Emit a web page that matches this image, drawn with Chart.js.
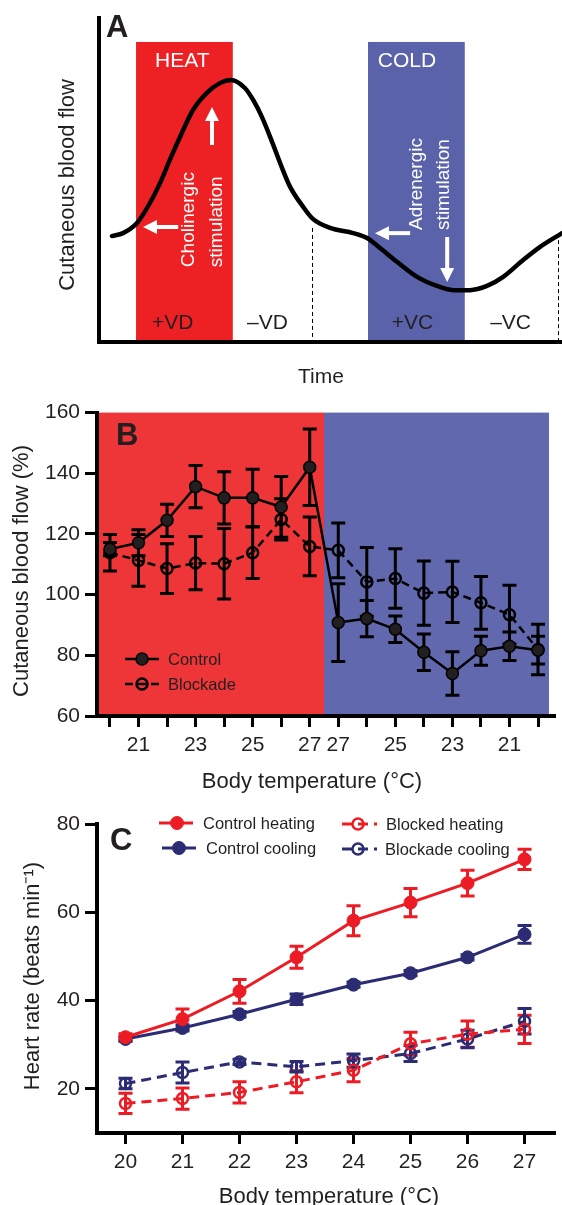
<!DOCTYPE html>
<html>
<head>
<meta charset="utf-8">
<script src="https://cdn.jsdelivr.net/npm/chart.js@4.4.1/dist/chart.umd.min.js"></script>
<style>
  body { margin: 0; background: #fff; }
  canvas { position: absolute; left: 0; }
</style>
</head>
<body>
<canvas id="chartA" width="562" height="395" style="top:0"></canvas>
<canvas id="chartB" width="562" height="400" style="top:395px"></canvas>
<canvas id="chartC" width="562" height="410" style="top:795px"></canvas>
<script>
// ---- panel A: schematic cutaneous blood flow over time (arbitrary units 0-100)
const aTime = [2.8, 5.2, 8.2, 11.0, 13.2, 15.3, 17.7, 20.3, 23.3, 26.1, 28.5, 31.5, 33.3, 35.2, 37.4, 39.7, 41.3, 44.1, 46.2, 49.9, 54.9, 57.9, 60.7, 64.4, 68.7, 73.0, 76.5, 80.1, 83.8, 87.3, 91.6, 95.2, 100]
const aFlow = [32.7, 33.6, 36.7, 42.9, 49.1, 56.2, 63.9, 71.6, 76.9, 79.9, 80.9, 78.4, 74.7, 69.4, 61.7, 53.1, 47.8, 41.7, 38.0, 35.2, 33.6, 32.1, 29.0, 24.7, 20.1, 17.3, 16.0, 16.0, 17.3, 20.1, 25.3, 29.3, 33.6]
const aPhaseNames = ['HEAT', 'COLD']
const aPhaseStart = [8.0, 58.1]
const aPhaseEnd = [28.9, 79.0]
const aPhaseTop = 92.6
const aStageNames = ['+VD', '\u2013VD', '+VC', '\u2013VC']
const aStageTime = [15.9, 36.4, 67.7, 88.9]
const aDashTime = [46.0, 99.1]
const aDashFlow = [35.2, 33.6]

// ---- panel B: blood flow during heating then cooling
const bTemps = [20, 21, 22, 23, 24, 25, 26, 27, 27, 26, 25, 24, 23, 22, 21, 20]
const bControl = [115.0, 117.1, 124.5, 135.6, 131.9, 131.9, 128.9, 142.0, 90.8, 92.1, 88.6, 81.0, 74.0, 81.5, 83.0, 81.7]
const bControlErr = [2.2, 4.3, 5.3, 7.0, 8.6, 9.4, 10.0, 12.6, 12.8, 6.0, 4.4, 6.0, 7.2, 4.8, 4.7, 4.6]
const bBlockade = [113.8, 111.3, 108.6, 110.4, 110.2, 113.8, 124.8, 115.9, 114.6, 104.2, 105.3, 100.5, 100.9, 97.3, 93.4, 81.9]
const bBlockadeErr = [6.0, 8.5, 8.2, 8.8, 11.6, 8.5, 6.8, 9.7, 9.0, 11.3, 9.8, 10.6, 10.1, 8.7, 9.7, 8.3]
const bSplit = 7.5
const bEnd = 15.385

// ---- panel C: heart rate
const cTemps = [20, 21, 22, 23, 24, 25, 26, 27]
const cYTicks = [20, 40, 60, 80]
const cCtrlHeat = [31.7, 35.8, 42.1, 49.8, 58.1, 62.2, 66.6, 72.0]
const cCtrlHeatErr = [0.8, 2.3, 2.7, 2.5, 3.4, 3.2, 2.9, 2.3]
const cCtrlCool = [31.3, 33.8, 36.9, 40.3, 43.6, 46.2, 49.8, 55.0]
const cCtrlCoolErr = [0.5, 0.7, 0.6, 1.2, 0.6, 0.6, 0.6, 2.0]
const cBlockHeat = [16.7, 17.8, 19.2, 21.6, 24.2, 30.2, 32.4, 33.5]
const cBlockHeatErr = [2.3, 2.4, 2.4, 2.5, 2.6, 2.6, 3.0, 3.2]
const cBlockCool = [21.2, 23.7, 26.1, 25.0, 26.4, 28.0, 31.3, 35.3]
const cBlockCoolErr = [1.2, 2.4, 0.6, 1.2, 1.5, 1.8, 2.0, 2.9]

const FONT = '"Liberation Sans", Arial, Helvetica, sans-serif'
const INK = '#231f20'
Chart.defaults.font.family = FONT
Chart.defaults.color = INK

// free text (axis titles, panel letters)
const textPlugin = {
  id: 'texts',
  afterDraw(chart, args, opts) {
    const ctx = chart.ctx
    ;(opts.items || []).forEach(it => {
      ctx.save()
      ctx.translate(it.x, it.y)
      if (it.rot) ctx.rotate(it.rot * Math.PI / 180)
      ctx.font = it.font
      ctx.fillStyle = it.color || INK
      ctx.textAlign = it.align || 'center'
      ctx.textBaseline = it.base || 'alphabetic'
      ctx.fillText(it.text, 0, 0)
      ctx.restore()
    })
  }
}

// vertical error bars from dataset.errors
const errorBarPlugin = {
  id: 'errorBars',
  beforeDatasetsDraw(chart, args, opts) {
    if (!opts.on) return
    const {ctx, scales: {y}} = chart
    chart.data.datasets.forEach((ds, di) => {
      if (!ds.errors) return
      const meta = chart.getDatasetMeta(di)
      ctx.save()
      ctx.strokeStyle = ds.borderColor
      ctx.lineWidth = 3
      meta.data.forEach((pt, i) => {
        const v = ds.data[i].y, e = ds.errors[i]
        const top = y.getPixelForValue(v + e), bot = y.getPixelForValue(v - e)
        ctx.beginPath()
        ctx.moveTo(pt.x, top); ctx.lineTo(pt.x, bot)
        ctx.moveTo(pt.x - 7, top); ctx.lineTo(pt.x + 7, top)
        ctx.moveTo(pt.x - 7, bot); ctx.lineTo(pt.x + 7, bot)
        ctx.stroke()
      })
      ctx.restore()
    })
  }
}

// legend entries drawn as line + marker, like the figure
const lineLegendPlugin = {
  id: 'lineLegend',
  afterDraw(chart, args, opts) {
    const ctx = chart.ctx
    ;(opts.items || []).forEach(it => {
      const ds = chart.data.datasets[it.ds]
      ctx.save()
      ctx.strokeStyle = ds.borderColor
      ctx.lineWidth = ds.borderWidth
      ctx.setLineDash(ds.borderDash || [])
      ctx.beginPath(); ctx.moveTo(it.x1, it.y); ctx.lineTo(it.x2, it.y); ctx.stroke()
      ctx.setLineDash([])
      ctx.beginPath(); ctx.arc(it.mx, it.y, ds.pointRadius, 0, Math.PI * 2)
      ctx.fillStyle = ds.pointBackgroundColor; ctx.fill()
      ctx.lineWidth = ds.pointBorderWidth; ctx.strokeStyle = ds.pointBorderColor; ctx.stroke()
      ctx.font = opts.font; ctx.fillStyle = INK
      ctx.textAlign = 'left'; ctx.textBaseline = 'middle'
      ctx.fillText(ds.label, it.tx, it.y + 1)
      ctx.restore()
    })
  }
}

// background bands for heating / cooling
const bandPlugin = {
  id: 'bands',
  beforeDraw(chart, args, opts) {
    if (!opts.items) return
    const {ctx, scales: {x, y}} = chart
    ctx.save()
    opts.items.forEach(b => {
      const l = x.getPixelForValue(b.from), r = x.getPixelForValue(b.to)
      const t = y.getPixelForValue(b.top), bt = y.getPixelForValue(b.bottom)
      ctx.fillStyle = b.color
      ctx.fillRect(l, t, r - l, bt - t)
    })
    ctx.restore()
  }
}

Chart.register(textPlugin, errorBarPlugin, lineLegendPlugin, bandPlugin)

function arrow(ctx, x1, y1, x2, y2) {
  const ang = Math.atan2(y2 - y1, x2 - x1), head = 14, hw = 7
  const bx = x2 - head * Math.cos(ang), by = y2 - head * Math.sin(ang)
  ctx.beginPath(); ctx.moveTo(x1, y1); ctx.lineTo(bx, by); ctx.stroke()
  ctx.beginPath(); ctx.moveTo(x2, y2)
  ctx.lineTo(bx + hw * Math.sin(ang), by - hw * Math.cos(ang))
  ctx.lineTo(bx - hw * Math.sin(ang), by + hw * Math.cos(ang))
  ctx.closePath(); ctx.fill()
}

// panel A annotations: dashed markers, phase names, arrows, rotated notes
const schematicPlugin = {
  id: 'schematic',
  afterDatasetsDraw(chart) {
    const {ctx, scales: {x, y}} = chart
    ctx.save()
    ctx.strokeStyle = '#000'; ctx.lineWidth = 1; ctx.setLineDash([4, 3])
    aDashTime.forEach((t, i) => {
      const px = Math.round(x.getPixelForValue(t)) + 0.5
      ctx.beginPath()
      ctx.moveTo(px, y.getPixelForValue(aDashFlow[i]))
      ctx.lineTo(px, y.getPixelForValue(0))
      ctx.stroke()
    })
    ctx.setLineDash([])
    ctx.font = '21px ' + FONT
    ctx.textAlign = 'center'; ctx.textBaseline = 'alphabetic'
    ctx.fillStyle = '#fff'
    ctx.fillText(aPhaseNames[0], x.getPixelForValue(18.0), y.getPixelForValue(84.9))
    ctx.fillText(aPhaseNames[1], x.getPixelForValue(66.5), y.getPixelForValue(84.9))
    ctx.fillStyle = INK
    aStageNames.forEach((s, i) => ctx.fillText(s, x.getPixelForValue(aStageTime[i]), y.getPixelForValue(4.0)))

    ctx.strokeStyle = '#fff'; ctx.fillStyle = '#fff'; ctx.lineWidth = 4
    arrow(ctx, x.getPixelForValue(17.1), y.getPixelForValue(35.5), x.getPixelForValue(9.5), y.getPixelForValue(35.5))
    arrow(ctx, x.getPixelForValue(24.4), y.getPixelForValue(60.8), x.getPixelForValue(24.4), y.getPixelForValue(72.5))
    arrow(ctx, x.getPixelForValue(67.2), y.getPixelForValue(33.6), x.getPixelForValue(59.6), y.getPixelForValue(33.6))
    arrow(ctx, x.getPixelForValue(75.2), y.getPixelForValue(32.4), x.getPixelForValue(75.2), y.getPixelForValue(18.5))

    const notes = [['Cholinergic', 20.5, 23.1], ['stimulation', 26.6, 23.1], ['Adrenergic', 69.8, 34.6], ['stimulation', 75.6, 34.6]]
    ctx.font = '19px ' + FONT
    ctx.textAlign = 'left'
    notes.forEach(n => {
      ctx.save()
      ctx.translate(x.getPixelForValue(n[1]), y.getPixelForValue(n[2]))
      ctx.rotate(-Math.PI / 2)
      ctx.fillText(n[0], 0, 0)
      ctx.restore()
    })
    ctx.restore()
  }
}

new Chart(document.getElementById('chartA'), {
  type: 'line',
  data: {
    datasets: [{
      data: aTime.map((t, i) => ({x: t, y: aFlow[i]})),
      borderColor: '#000', borderWidth: 4.5, pointRadius: 0,
      cubicInterpolationMode: 'monotone', borderCapStyle: 'round'
    }]
  },
  options: {
    responsive: false, animation: false, devicePixelRatio: 1,
    layout: {padding: {top: 18, right: 0, left: 0, bottom: 0}},
    plugins: {
      legend: {display: false}, tooltip: {enabled: false},
      bands: {items: [
        {from: aPhaseStart[0], to: aPhaseEnd[0], top: aPhaseTop, bottom: 0, color: '#ed2024'},
        {from: aPhaseStart[1], to: aPhaseEnd[1], top: aPhaseTop, bottom: 0, color: '#5a62aa'}
      ]},
      texts: {items: [
        {text: 'A', x: 106, y: 37, font: 'bold 31px ' + FONT, align: 'left'},
        {text: 'Cutaneous blood flow', x: 68, y: 185, rot: -90, font: '22px ' + FONT, base: 'middle'},
        {text: 'Time', x: 321, y: 383, font: '21px ' + FONT}
      ]}
    },
    scales: {
      x: {type: 'linear', min: 0, max: 100, afterFit: s => { s.height = 53 },
        ticks: {display: false}, grid: {display: false}, border: {color: '#000', width: 4}},
      y: {min: 0, max: 100, afterFit: s => { s.width = 99 },
        ticks: {display: false}, grid: {display: false}, border: {color: '#000', width: 4}}
    }
  },
  plugins: [schematicPlugin]
})

new Chart(document.getElementById('chartB'), {
  type: 'line',
  data: {
    datasets: [
      {label: 'Control', data: bControl.map((v, i) => ({x: i, y: v})), errors: bControlErr,
        borderColor: '#000', borderWidth: 2.5, pointRadius: 6,
        pointBackgroundColor: INK, pointBorderColor: '#000', pointBorderWidth: 1.5},
      {label: 'Blockade', data: bBlockade.map((v, i) => ({x: i, y: v})), errors: bBlockadeErr,
        borderColor: '#000', borderWidth: 2.5, borderDash: [8, 5], pointRadius: 5.5,
        pointBackgroundColor: 'rgba(0,0,0,0)', pointBorderColor: '#000', pointBorderWidth: 2.5}
    ]
  },
  options: {
    responsive: false, animation: false, devicePixelRatio: 1,
    layout: {padding: {top: 17, right: 7, left: 0, bottom: 0}},
    plugins: {
      legend: {display: false}, tooltip: {enabled: false},
      errorBars: {on: true},
      bands: {items: [
        {from: -0.4545, to: bSplit, top: 160, bottom: 60, color: '#ee3537'},
        {from: bSplit, to: bEnd, top: 160, bottom: 60, color: '#6268ae'}
      ]},
      lineLegend: {font: '16.5px ' + FONT, items: [
        {ds: 0, x1: 125, x2: 159, mx: 142, tx: 168, y: 264},
        {ds: 1, x1: 125, x2: 159, mx: 142, tx: 168, y: 289}
      ]},
      texts: {items: [
        {text: 'B', x: 116, y: 50, font: 'bold 31px ' + FONT, align: 'left'},
        {text: 'Cutaneous blood flow (%)', x: 22, y: 176, rot: -90, font: '22px ' + FONT, base: 'middle'},
        {text: 'Body temperature (\u00b0C)', x: 312, y: 393, font: '22px ' + FONT}
      ]}
    },
    scales: {
      x: {type: 'linear', min: -0.4545, max: 15.56,
        afterBuildTicks: s => { s.ticks = bTemps.map((t, i) => ({value: i})) },
        afterFit: s => { s.height = 79 },
        ticks: {autoSkip: false, maxRotation: 0, padding: 6, color: INK, font: {size: 21},
          callback: v => (bTemps[v] % 2 ? String(bTemps[v]) : '')},
        grid: {drawOnChartArea: false, tickLength: 11, lineWidth: 3, color: '#000'},
        border: {color: '#000', width: 4}},
      y: {min: 60, max: 160, afterFit: s => { s.width = 97 },
        ticks: {stepSize: 20, padding: 5, color: INK, font: {size: 21}},
        grid: {drawOnChartArea: false, tickLength: 12, lineWidth: 3, color: '#000'},
        border: {color: '#000', width: 4}}
    }
  }
})

const RED = '#ed1c24', NAVY = '#2b2c73'
function cSet(label, vals, errs, color, open) {
  return {
    label, data: vals.map((v, i) => ({x: cTemps[i], y: v})), errors: errs,
    borderColor: color, borderWidth: 3, borderDash: open ? [10, 6] : [],
    pointRadius: open ? 5.5 : 6.5, pointBorderWidth: open ? 2.5 : 1,
    pointBackgroundColor: open ? 'rgba(255,255,255,0)' : color, pointBorderColor: color
  }
}

new Chart(document.getElementById('chartC'), {
  type: 'line',
  data: {
    datasets: [
      cSet('Control heating', cCtrlHeat, cCtrlHeatErr, RED, false),
      cSet('Blocked heating', cBlockHeat, cBlockHeatErr, RED, true),
      cSet('Blockade cooling', cBlockCool, cBlockCoolErr, NAVY, true),
      cSet('Control cooling', cCtrlCool, cCtrlCoolErr, NAVY, false)
    ]
  },
  options: {
    responsive: false, animation: false, devicePixelRatio: 1,
    layout: {padding: {top: 29, right: 0, left: 0, bottom: 0}},
    plugins: {
      legend: {display: false}, tooltip: {enabled: false},
      errorBars: {on: true},
      lineLegend: {font: '16.5px ' + FONT, items: [
        {ds: 0, x1: 159, x2: 193, mx: 177, tx: 203, y: 28},
        {ds: 3, x1: 162, x2: 196, mx: 179, tx: 206, y: 53},
        {ds: 1, x1: 342, x2: 377, mx: 358, tx: 386, y: 29},
        {ds: 2, x1: 342, x2: 377, mx: 358, tx: 385, y: 54}
      ]},
      texts: {items: [
        {text: 'C', x: 110, y: 55, font: 'bold 31px ' + FONT, align: 'left'},
        {text: 'Heart rate (beats min\u207b\u00b9)', x: 33, y: 181, rot: -90, font: '22px ' + FONT, base: 'middle'},
        {text: 'Body temperature (\u00b0C)', x: 329, y: 408, font: '22px ' + FONT}
      ]}
    },
    scales: {
      x: {type: 'linear', min: 19.5, max: 27.517,
        afterBuildTicks: s => { s.ticks = cTemps.map(v => ({value: v})) },
        afterFit: s => { s.height = 72 },
        ticks: {autoSkip: false, maxRotation: 0, padding: 6, color: INK, font: {size: 21}},
        grid: {drawOnChartArea: false, tickLength: 11, lineWidth: 3, color: '#000'},
        border: {color: '#000', width: 4}},
      y: {min: 10, max: 80,
        afterBuildTicks: s => { s.ticks = cYTicks.map(v => ({value: v})) },
        afterFit: s => { s.width = 97 },
        ticks: {padding: 5, color: INK, font: {size: 21}},
        grid: {drawOnChartArea: false, tickLength: 12, lineWidth: 3, color: '#000'},
        border: {color: '#000', width: 4}}
    }
  }
})
</script>
</body>
</html>
